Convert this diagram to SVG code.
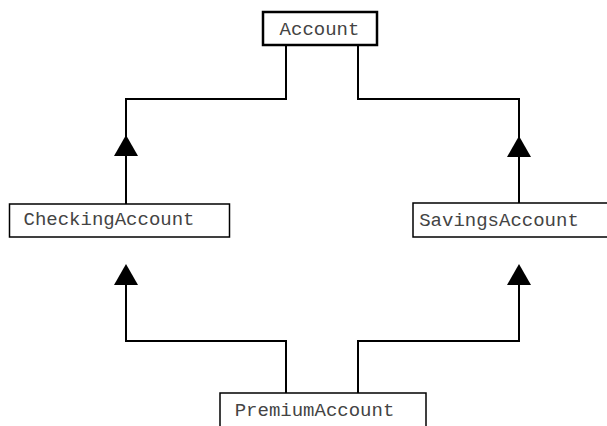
<svg xmlns="http://www.w3.org/2000/svg" width="607" height="426" viewBox="0 0 607 426">
<defs>
<style>
.box{fill:#fff;stroke:#000;stroke-width:1.5}
.root{stroke-width:2.5}
.lbl{font-family:"Liberation Mono","DejaVu Sans Mono",monospace;font-size:19px;fill:#444}
.edge{fill:none;stroke:#000;stroke-width:2}
.head{fill:#000;stroke:none}
</style>
</defs>
<rect width="607" height="426" fill="#fff"/>
<g id="connectors">
<path class="edge" d="M286,45 V99 H126 V204"/>
<path class="edge" d="M358,45 V99 H519 V203"/>
<path class="edge" d="M286,393 V341 H126 V280"/>
<path class="edge" d="M358,393 V341 H519 V280"/>
<polygon class="head" points="126,135 114,156 138,156"/>
<polygon class="head" points="519,136 507,157 531,157"/>
<polygon class="head" points="126,264 114,285 138,285"/>
<polygon class="head" points="519,264 507,285 531,285"/>
</g>
<g id="Account">
<rect class="box root" x="263" y="12" width="114" height="33"/>
<text class="lbl" x="319.5" y="35" text-anchor="middle">Account</text>
</g>
<g id="CheckingAccount">
<rect class="box" x="9.5" y="204" width="220" height="33"/>
<text class="lbl" x="109" y="225" text-anchor="middle">CheckingAccount</text>
</g>
<g id="SavingsAccount">
<rect class="box" x="413" y="203" width="196" height="34"/>
<text class="lbl" x="499" y="226" text-anchor="middle">SavingsAccount</text>
</g>
<g id="PremiumAccount">
<rect class="box" x="220" y="393" width="206" height="40"/>
<text class="lbl" x="314.5" y="416" text-anchor="middle">PremiumAccount</text>
</g>
</svg>
